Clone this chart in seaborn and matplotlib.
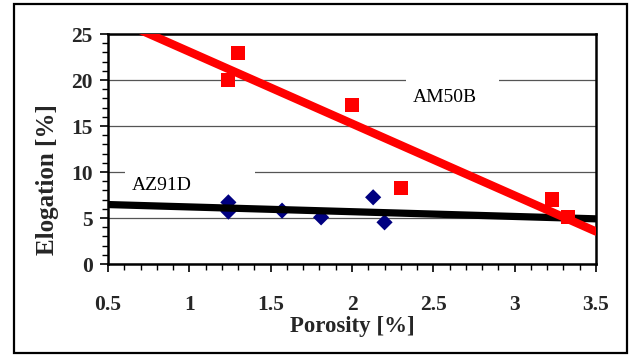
import matplotlib
matplotlib.use("Agg")
import matplotlib.pyplot as plt
from matplotlib.patches import Rectangle
from matplotlib.ticker import MultipleLocator
import seaborn as sns

# Elongation versus porosity for two magnesium die-casting alloys
az91d_porosity = [1.24, 1.24, 1.57, 1.81, 2.13, 2.20]
az91d_elong = [6.70, 5.70, 5.80, 5.07, 7.25, 4.53]

am50b_porosity = [1.24, 1.30, 2.00, 2.30, 3.23, 3.33]
am50b_elong = [20.0, 22.9, 17.3, 8.3, 7.0, 5.1]

x_ticks = [0.5, 1.0, 1.5, 2.0, 2.5, 3.0, 3.5]
x_tick_labels = ["0.5", "1", "1.5", "2", "2.5", "3", "3.5"]
y_ticks = [0, 5, 10, 15, 20, 25]

sns.set_style("ticks")
plt.rcParams["font.family"] = ["Liberation Serif", "DejaVu Serif"]

fig = plt.figure(figsize=(6.33, 3.56), dpi=100)
ax = fig.add_axes([108 / 633, 1 - 264 / 356, 488 / 633, 230 / 356])

ax.set_xlim(0.5, 3.5)
ax.set_ylim(0, 25)

# Fitted trend lines with their measurements
sns.regplot(x=az91d_porosity, y=az91d_elong, ax=ax, ci=None, truncate=False,
            marker="D",
            scatter_kws=dict(s=68, color="#000080", edgecolors="none", zorder=1, alpha=1),
            line_kws=dict(color="black", lw=5.2, zorder=2))
sns.regplot(x=am50b_porosity, y=am50b_elong, ax=ax, ci=None, truncate=False,
            marker="s",
            scatter_kws=dict(s=105, color="#FF0000", edgecolors="none", zorder=3, alpha=1),
            line_kws=dict(color="#FF0000", lw=6.0, zorder=4))
ax.set_xlim(0.5, 3.5)
ax.set_ylim(0, 25)

# Horizontal gridlines
ax.set_axisbelow(True)
ax.yaxis.grid(True, color="#555555", lw=0.9)
ax.xaxis.grid(False)

# Series labels sitting on white boxes that interrupt the gridlines
ax.add_patch(Rectangle((2.335, 16.6), 0.57, 4.2, facecolor="white",
                       edgecolor="none", zorder=0.8))
ax.add_patch(Rectangle((0.605, 7.6), 0.80, 3.1, facecolor="white",
                       edgecolor="none", zorder=0.8))
ax.text(2.375, 17.64, "AM50B", fontsize=14, va="baseline", ha="left",
        color="black", zorder=5)
ax.text(0.646, 8.04, "AZ91D", fontsize=14, va="baseline", ha="left",
        color="black", zorder=5)

# Axes, ticks and labels
ax.set_xticks(x_ticks)
ax.set_xticklabels(x_tick_labels)
ax.set_yticks(y_ticks)
ax.xaxis.set_minor_locator(MultipleLocator(0.1))
ax.yaxis.set_minor_locator(MultipleLocator(1))
ax.tick_params(which="major", direction="out", length=6, width=1.2,
               color="black", labelsize=15.5)
ax.tick_params(which="minor", direction="out", length=4, width=1.0, color="black")
ax.tick_params(axis="x", which="major", pad=16)
ax.tick_params(axis="y", which="major", pad=5)
for lab in ax.get_xticklabels() + ax.get_yticklabels():
    lab.set_fontweight("bold")

for side in ["left", "right", "top", "bottom"]:
    ax.spines[side].set_visible(True)
    ax.spines[side].set_color("black")
    ax.spines[side].set_linewidth(1.8)

ax.set_xlabel("Porosity [%]", fontsize=16.5, fontweight="bold")
ax.set_ylabel("Elogation [%]", fontsize=18, fontweight="bold")
ax.xaxis.set_label_coords(0.5, -0.27)
ax.yaxis.set_label_coords(-0.125, 0.365)
ax.xaxis.label.set_va("center")
ax.yaxis.label.set_va("center")

# Frame around the whole chart
fig.patches.append(Rectangle((14 / 633, 1 - 353 / 356), 613 / 633, 349 / 356,
                             transform=fig.transFigure, fill=False,
                             edgecolor="black", lw=1.6))

fig.savefig("out.png", dpi=100)
